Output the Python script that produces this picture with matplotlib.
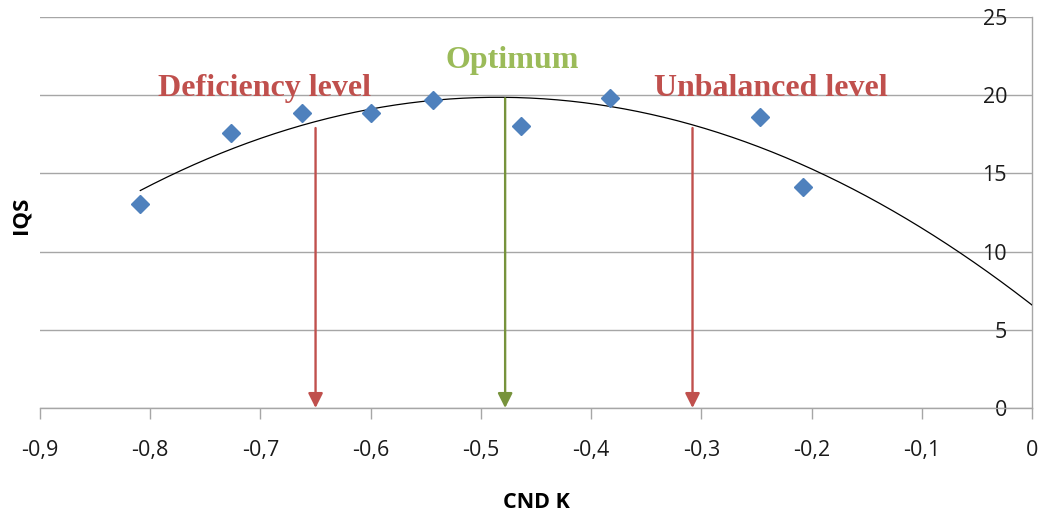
import numpy as np
import matplotlib
matplotlib.use('Agg')
import matplotlib.pyplot as plt
import matplotlib.ticker as tck

# measured points (CND K vs IQS)
cnd_k = [-0.809, -0.727, -0.662, -0.600, -0.543, -0.464, -0.383, -0.247, -0.208]
iqs = [13.05, 17.6, 18.85, 18.85, 19.7, 18.05, 19.8, 18.6, 14.15]

# arrows: x position, top of arrow
arrow_x = [-0.650, -0.478, -0.308]
arrow_top = [17.9, 19.8, 17.9]
arrow_colors = ['#C0504D', '#77933C', '#C0504D']

labels = ['Deficiency level', 'Optimum', 'Unbalanced level']
label_x = [-0.696, -0.472, -0.237]
label_y = [20.45, 22.25, 20.45]
label_colors = ['#C0504D', '#9BBB59', '#C0504D']

fig = plt.figure(figsize=(10.44, 5.17), dpi=100)
ax = fig.add_axes([40 / 1044, 1 - 408 / 517, 992 / 1044, 391 / 517])

# polynomial trendline (order 2), forecast forward to 0
coef = np.polyfit(cnd_k, iqs, 2)
xs = np.linspace(min(cnd_k), 0, 200)
ax.plot(xs, np.polyval(coef, xs), color='black', lw=0.9, zorder=3)

ax.plot(cnd_k, iqs, 'D', color='#4F81BD', ms=9.5, mec='#4F81BD', zorder=4)

for x, top, c in zip(arrow_x, arrow_top, arrow_colors):
	ax.annotate('', xy=(x, 0), xytext=(x, top),
	            arrowprops=dict(arrowstyle='-|>', color=c, lw=1.7,
	                            mutation_scale=22, shrinkA=0, shrinkB=0),
	            zorder=5)

for t, x, y, c in zip(labels, label_x, label_y, label_colors):
	ax.text(x, y, t, color=c, ha='center', va='center', fontsize=23,
	        fontweight='bold', family='Liberation Serif', zorder=6)

ax.set_xlim(-0.9, 0)
ax.set_ylim(0, 25)
ax.xaxis.set_major_locator(tck.MultipleLocator(0.1))
ax.yaxis.set_major_locator(tck.MultipleLocator(5))

def comma_fmt(x, pos):
	s = '%g' % round(x, 2)
	if s == '-0':
		s = '0'
	return s.replace('.', ',')

ax.xaxis.set_major_formatter(tck.FuncFormatter(comma_fmt))
ax.yaxis.set_major_formatter(tck.FuncFormatter(comma_fmt))

# y axis crosses at x = 0, like the spreadsheet does
ax.spines['left'].set_position(('data', 0))
ax.spines['top'].set_visible(False)
ax.spines['right'].set_visible(False)
for s in ['left', 'bottom']:
	ax.spines[s].set_color('#A6A6A6')
	ax.spines[s].set_linewidth(1.0)

ax.grid(True, axis='y', color='#A6A6A6', lw=1.0)
ax.set_axisbelow(True)
ax.tick_params(axis='x', colors='#A6A6A6', length=8, width=1.0,
               labelcolor='#1a1a1a', labelsize=15.5, pad=15)
ax.tick_params(axis='y', length=0, labelcolor='#1a1a1a', labelsize=15.5,
               pad=18)
for lab in ax.get_xticklabels() + ax.get_yticklabels():
	lab.set_family('Open Sans')

fig.text(21.5 / 1044, 1 - 215 / 517, 'IQS', rotation=90, ha='center',
         va='center', fontsize=16, fontweight='bold', family='Open Sans')
fig.text(536 / 1044, 1 - 503 / 517, 'CND K', ha='center', va='center',
         fontsize=15.5, fontweight='bold', family='Open Sans')

fig.savefig('out.png', dpi=100)
